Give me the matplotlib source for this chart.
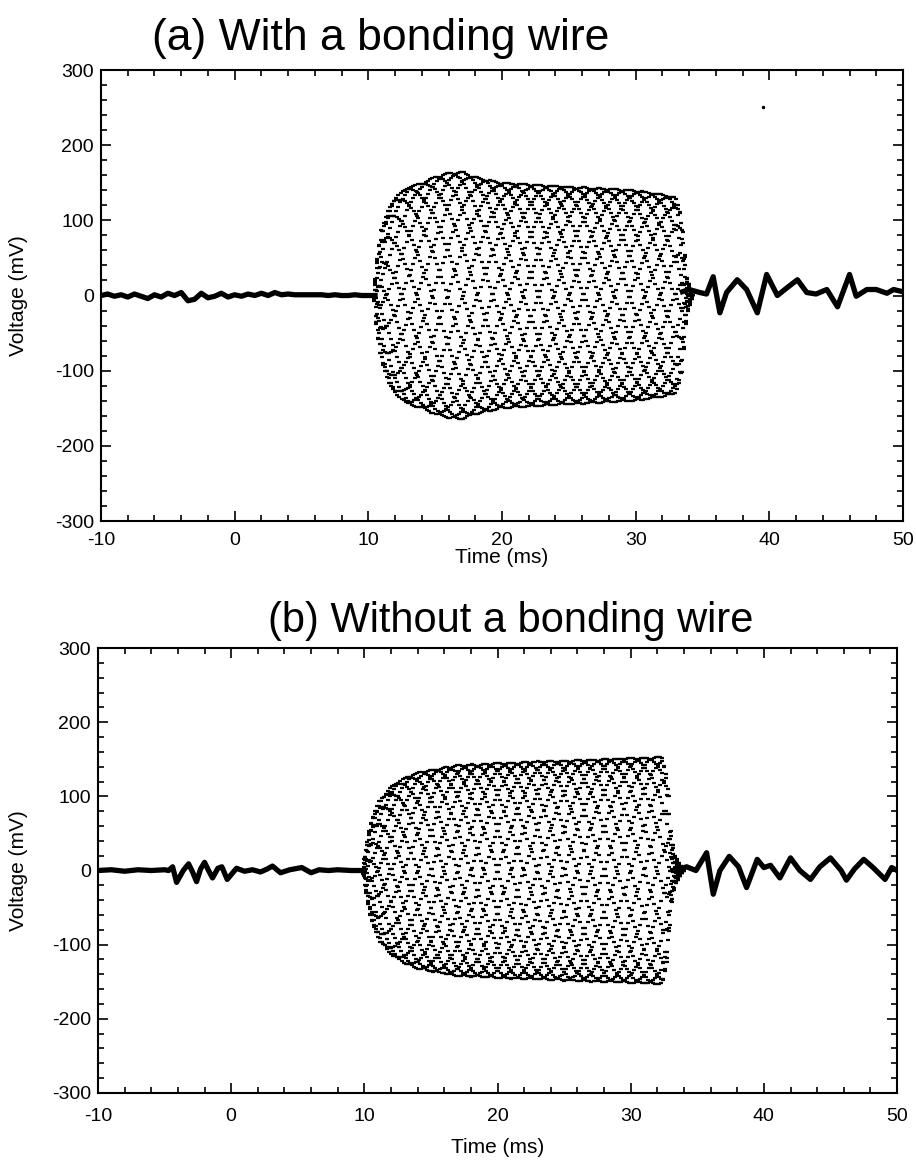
import numpy as np
import matplotlib.pyplot as plt
from matplotlib.ticker import MultipleLocator

plt.rcParams['font.family'] = ['Liberation Sans', 'DejaVu Sans']
plt.rcParams['axes.unicode_minus'] = False

# --- quiet parts of the traces (ms, mV)
pre_a_t = [-10, -9.5, -9, -8.5, -8, -7.5, -7, -6.5, -6, -5.5, -5, -4.5, -4, -3.5, -3, -2.5,
           -2, -1.5, -1, -0.5, 0, 0.5, 1, 1.5, 2, 2.5, 3, 3.5, 4, 4.5, 5, 5.5, 6, 6.5, 7,
           7.5, 8, 8.5, 9, 9.5, 10, 10.5]
pre_a_v = [0, 2, -1, 1, -2, 2, -1, -4, 1, -2, 3, 0, 4, -7, -5, 3, -3, -1, 3, -2, 1, -1, 2,
           0, 3, 0, 4, 1, 2, 1, 1, 1, 1, 1, 0, 1, 0, 0, 1, 0, 0, 0]
post_a_t = [33.5, 34.0, 34.8, 35.3, 35.8, 36.3, 36.8, 37.6, 38.3, 39.1, 39.8, 40.6, 41.3,
            42.1, 42.8, 43.5, 44.3, 45.1, 46.0, 46.5, 47.3, 48.0, 48.8, 49.3, 50.0]
post_a_v = [5, 8, 4, 2, 25, -23, 4, 21, 8, -23, 28, 0, 10, 21, 4, 2, 8, -15, 28, -1, 8, 8,
            3, 8, 5]

pre_b_t = [-10, -9, -8, -7, -6, -5, -4.7, -4.4, -4.1, -3.6, -3.2, -2.9, -2.6, -2.3, -2.0,
           -1.7, -1.4, -1.0, -0.7, -0.3, 0.4, 1.0, 1.6, 2.2, 2.7, 3.1, 3.7, 4.4, 5.3, 6.0,
           6.6, 7.3, 8.0, 9.0, 10.0]
pre_b_v = [0, 1, -1, 1, 0, 1, 0, 5, -16, 0, 9, -2, -15, 2, 11, 0, -10, 3, 5, -12, 3, -1, 1,
           -2, 2, 6, -3, 1, 4, -3, 1, 0, 1, 0, 0]
post_b_t = [33.4, 34.2, 34.9, 35.7, 36.2, 36.7, 37.4, 38.1, 38.7, 39.5, 40.0, 40.5, 41.2,
            42.0, 42.7, 43.5, 44.2, 45.0, 45.8, 46.2, 46.8, 47.5, 48.2, 49.1, 49.6, 50.0]
post_b_v = [0, 5, 0, 24, -32, 0, 19, 5, -23, 15, 4, 7, -10, 17, 0, -12, 5, 17, 0, -13, 2,
            15, 4, -12, 4, 0]

# --- burst envelopes (ms, mV peak)
env_a_t = [10.4, 10.6, 11.0, 11.5, 12.0, 13.0, 14.0, 15.0, 16.0, 17.0, 18.0, 20.0, 22.0,
           25.0, 28.0, 30.0, 32.0, 33.0, 33.4, 33.8, 34.3]
env_a_v = [0, 40, 90, 115, 130, 145, 150, 158, 163, 165, 158, 150, 148, 145, 142, 140, 135,
           130, 110, 25, 0]
env_b_t = [9.9, 10.1, 10.4, 10.8, 11.2, 12.0, 13.0, 14.0, 15.0, 17.0, 20.0, 23.0, 26.0,
           29.0, 32.0, 32.4, 32.8, 33.0, 33.3, 33.7, 34.0]
env_b_v = [0, 30, 60, 80, 96, 113, 125, 132, 136, 142, 145, 147, 149, 151, 153, 153, 120,
           50, 20, 8, 0]

# tone frequency (kHz) and scope sample rate (kHz)
tone_a = 6.305
tone_b = 6.3125
rate = 100.0

# stray point seen on channel (a)
spike_a = (39.5, 251)


def burst(env_t, env_v, tone):
    t = np.arange(env_t[0], env_t[-1], 1.0 / rate)
    return t, np.interp(t, env_t, env_v) * np.sin(2 * np.pi * tone * t)


def setup(ax, xpad):
    ax.set_xlim(-10, 50)
    ax.set_ylim(-300, 300)
    ax.xaxis.set_major_locator(MultipleLocator(10))
    ax.xaxis.set_minor_locator(MultipleLocator(2))
    ax.yaxis.set_major_locator(MultipleLocator(100))
    ax.yaxis.set_minor_locator(MultipleLocator(20))
    ax.tick_params(which='both', direction='in', top=True, right=True, labelsize=14,
                   width=1.2)
    ax.tick_params(which='major', length=7)
    ax.tick_params(which='minor', length=4)
    ax.tick_params(axis='y', which='major', pad=5)
    ax.tick_params(axis='x', which='major', pad=xpad)
    for s in ax.spines.values():
        s.set_linewidth(1.5)
    ax.set_ylabel('Voltage (mV)', fontsize=15)


fig = plt.figure(figsize=(9.16, 11.63), dpi=100)
ax1 = fig.add_axes([0.1103, 0.552, 0.8755, 0.3878])
ax2 = fig.add_axes([0.107, 0.0602, 0.8723, 0.3826])

for ax, xpad, pt, pv, qt, qv, et, ev, tone in [
        (ax1, 8, pre_a_t, pre_a_v, post_a_t, post_a_v, env_a_t, env_a_v, tone_a),
        (ax2, 11, pre_b_t, pre_b_v, post_b_t, post_b_v, env_b_t, env_b_v, tone_b)]:
    setup(ax, xpad)
    ax.plot(pt, pv, color='k', lw=3.8, solid_joinstyle='round')
    ax.plot(qt, qv, color='k', lw=3.8, solid_joinstyle='round')
    bt, bv = burst(et, ev, tone)
    ax.plot(bt, bv, ls='none', marker='_', ms=2.6, mew=1.6, color='k')

ax1.plot([spike_a[0]], [spike_a[1]], 'k.', ms=3)

ax1.yaxis.set_label_coords(-0.091, 0.5)
ax2.yaxis.set_label_coords(-0.088, 0.5)
ax1.set_xlabel('Time (ms)', fontsize=15, labelpad=-1)
ax2.set_xlabel('Time (ms)', fontsize=15, labelpad=9)

fig.text(0.416, 0.957, '(a) With a bonding wire', fontsize=32, ha='center', va='baseline')
fig.text(0.557, 0.457, '(b) Without a bonding wire', fontsize=30, ha='center',
         va='baseline')

fig.savefig('out.png')
